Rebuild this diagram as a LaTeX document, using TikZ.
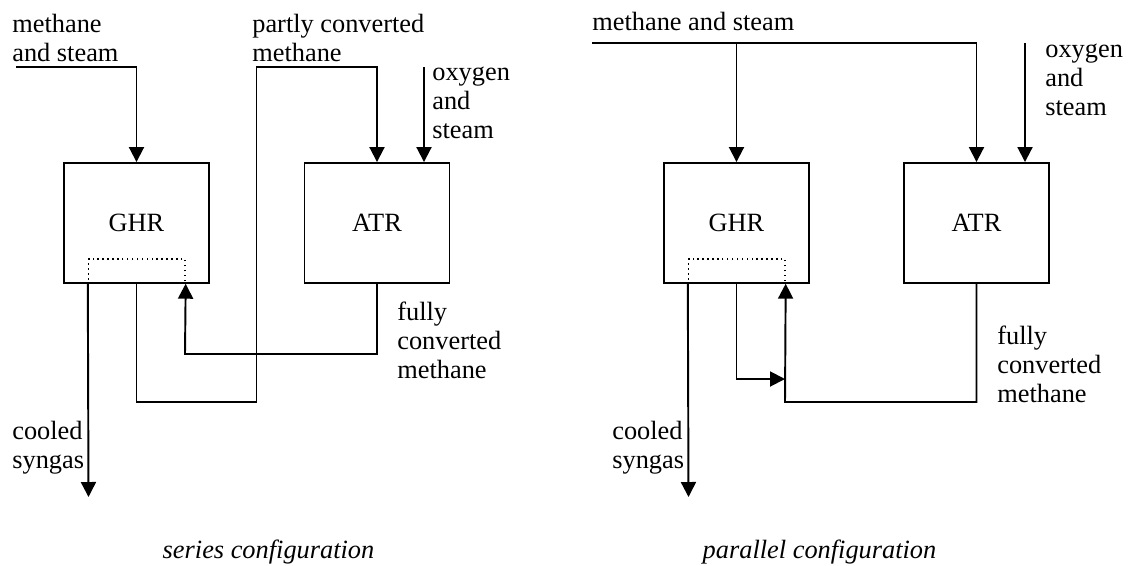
\documentclass[tikz,border=0pt]{standalone}
\usepackage{fontspec}
\setmainfont{Liberation Serif}
\usetikzlibrary{arrows.meta}

\tikzset{
  unit/.style={draw, line width=1.1pt, minimum width=2.9cm, minimum height=2.4cm, inner sep=0pt},
  hx/.style={draw, dotted, line width=0.8pt, minimum width=1.93cm, minimum height=0.48cm, inner sep=0pt},
  flow/.style={line width=1.1pt, -{Triangle[width=0.3cm,length=0.3cm]}},
  lbl/.style={anchor=base west, align=left, inner sep=0pt},
  conf/.style={anchor=base, inner sep=0pt, font=\fontsize{15}{16.5}\selectfont\itshape}
}

\begin{document}
\begin{tikzpicture}[x=0.02cm, y=-0.02cm, font=\fontsize{15}{16.5}\selectfont]
        \useasboundingbox (0,0) rectangle (1129,565);
        \node [unit] (ghr1) at (136.5,223) {GHR};
        \node [unit] (atr1) at (377,223) {ATR};
        \node [hx] (hx1) at (136.75,271) {};
        \coordinate (in1) at (16,67);
        \coordinate (ox1) at (424,67);
        \coordinate (bot1) at (256.5,402);
        \coordinate (ret1) at (185,354);
        \coordinate (out1) at (88.5,497);
        \draw [flow] (in1) -| (ghr1.north);
        \draw [flow] (ghr1.south) |- (bot1) -- (bot1 |- in1) -| (atr1.north);
        \draw [flow] (ox1) -- (ox1 |- atr1.north);
        \draw [flow] (atr1.south) |- (ret1) -- (hx1.south east);
        \draw [flow] (hx1.south west) -- (out1);
        \node [lbl] (feed1) at (12,61) {methane\\and steam};
        \node [lbl] (part1) at (252,61) {partly converted\\methane};
        \node [lbl] (oxl1) at (432,138) {oxygen\\and\\steam};
        \node [lbl] (full1) at (397,378) {fully\\converted\\methane};
        \node [lbl] (cool1) at (12,468) {cooled\\syngas};
        \node [conf] (ser) at (268.5,558) {series configuration};

        \node [unit] (ghr2) at (736.5,223) {GHR};
        \node [unit] (atr2) at (976.5,223) {ATR};
        \node [hx] (hx2) at (736.75,271) {};
        \coordinate (in2) at (592,42.7);
        \coordinate (ox2) at (1025,42.7);
        \coordinate (mix2) at (785,379);
        \coordinate (ret2) at (785,402);
        \coordinate (out2) at (688.5,497);
        \draw [flow] (in2) -| (atr2.north);
        \draw [flow] (in2 -| ghr2.north) -- (ghr2.north);
        \draw [flow] (ox2) -- (ox2 |- atr2.north);
        \draw [flow] (ghr2.south) |- (mix2);
        \draw [flow] (atr2.south) |- (ret2) -- (hx2.south east);
        \draw [flow] (hx2.south west) -- (out2);
        \node [lbl] (feed2) at (592,30) {methane and steam};
        \node [lbl] (oxl2) at (1045,115) {oxygen\\and\\steam};
        \node [lbl] (full2) at (997,402) {fully\\converted\\methane};
        \node [lbl] (cool2) at (612,468) {cooled\\syngas};
        \node [conf] (par) at (819.5,558) {parallel configuration};
    \end{tikzpicture}
\end{document}
